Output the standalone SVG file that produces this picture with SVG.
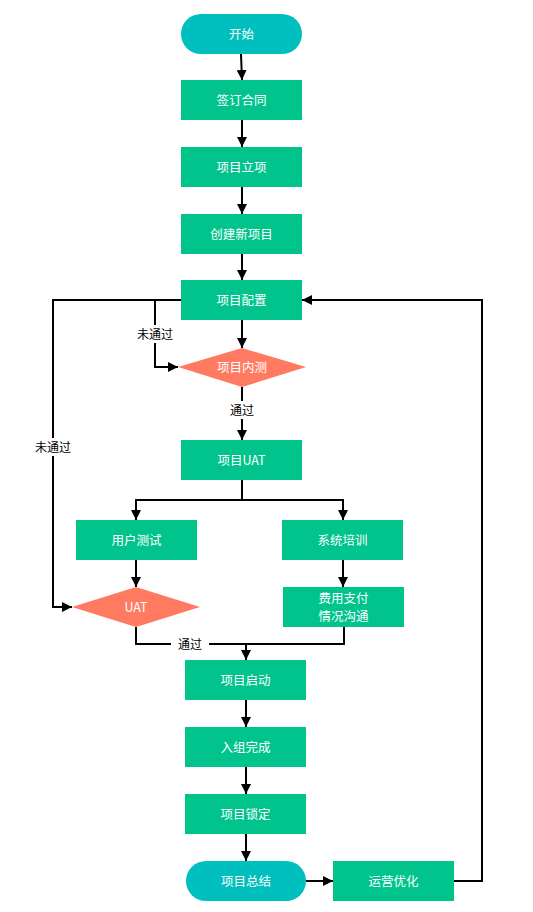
<svg xmlns="http://www.w3.org/2000/svg" width="533" height="912" viewBox="0 0 533 912">
<defs>
<marker id="ah" viewBox="0 0 10 10" refX="10" refY="5" markerWidth="10" markerHeight="10" markerUnits="userSpaceOnUse" orient="auto">
<path d="M0,0 L10,5 L0,10 z" fill="#000"/>
</marker>
<style>
.box{fill:#00C48C}
.pill{fill:#00BFBF}
.dia{fill:#FF7A61}
.t{font-family:"Noto Sans CJK SC","Noto Sans",sans-serif;font-size:12.5px;fill:#fff;text-anchor:middle;dominant-baseline:central}
.lbl{font-family:"Noto Sans CJK SC","Noto Sans",sans-serif;font-size:12px;fill:#000;text-anchor:middle;dominant-baseline:central}
.c{fill:none;stroke:#000;stroke-width:2}
.ca{fill:none;stroke:#000;stroke-width:2;marker-end:url(#ah)}
</style>
</defs>
<rect width="533" height="912" fill="#fff"/>
<g id="connectors">
<path class="ca" d="M241,54 L242,80"/>
<path class="ca" d="M242,120 L242,147"/>
<path class="ca" d="M242,187 L242,214"/>
<path class="ca" d="M242,254 L242,280"/>
<path class="ca" d="M242,320 L242,348"/>
<path class="ca" d="M181,300 L53,300 L53,607 L72,607"/>
<path class="ca" d="M155,300 L155,367 L178,367"/>
<path class="ca" d="M242,387 L242,440"/>
<path class="c" d="M242,480 L242,500"/>
<path class="ca" d="M242,500 L136,500 L136,520"/>
<path class="ca" d="M242,500 L343,500 L343,520"/>
<path class="ca" d="M136,560 L136,587"/>
<path class="ca" d="M343,560 L343,587"/>
<path class="c" d="M136,627 L136,644 L344,644 L344,627"/>
<path class="ca" d="M246,644 L246,660"/>
<path class="ca" d="M246,700 L246,727"/>
<path class="ca" d="M246,767 L246,794"/>
<path class="ca" d="M246,834 L246,861"/>
<path class="ca" d="M306,881 L333,881"/>
<path class="ca" d="M454,881 L482,881 L482,300 L302,300"/>
<rect x="132" y="325" width="46" height="18" fill="#fff"/>
<text class="lbl" x="155" y="333">未通过</text>
<rect x="30" y="438" width="46" height="18" fill="#fff"/>
<text class="lbl" x="53" y="446">未通过</text>
<rect x="224" y="401" width="36" height="18" fill="#fff"/>
<text class="lbl" x="242" y="409">通过</text>
<rect x="171" y="635" width="38" height="18" fill="#fff"/>
<text class="lbl" x="190" y="643">通过</text>
</g>
<g id="start"><rect class="pill" x="181" y="14" width="121" height="40" rx="20"/><text class="t" x="241.5" y="33">开始</text></g>
<g id="contract"><rect class="box" x="181" y="80" width="121" height="40"/><text class="t" x="241.5" y="99">签订合同</text></g>
<g id="approve"><rect class="box" x="181" y="147" width="121" height="40"/><text class="t" x="241.5" y="166">项目立项</text></g>
<g id="create"><rect class="box" x="181" y="214" width="121" height="40"/><text class="t" x="241.5" y="233">创建新项目</text></g>
<g id="config"><rect class="box" x="181" y="280" width="121" height="40"/><text class="t" x="241.5" y="299">项目配置</text></g>
<g id="internal"><polygon class="dia" points="178,367 242,348 306,367 242,387"/><text class="t" x="242" y="366">项目内测</text></g>
<g id="uat"><rect class="box" x="181" y="440" width="121" height="40"/><text class="t" x="241.5" y="459">项目UAT</text></g>
<g id="usertest"><rect class="box" x="76" y="520" width="121" height="40"/><text class="t" x="136.5" y="539">用户测试</text></g>
<g id="training"><rect class="box" x="282" y="520" width="121" height="40"/><text class="t" x="342.5" y="539">系统培训</text></g>
<g id="payment"><rect class="box" x="283" y="587" width="121" height="40"/><text class="t" x="343.5" y="597">费用支付</text><text class="t" x="343.5" y="615">情况沟通</text></g>
<g id="uatdec"><polygon class="dia" points="72,607 136,587 200,607 136,627"/><text class="t" x="136" y="606">UAT</text></g>
<g id="launch"><rect class="box" x="185" y="660" width="121" height="40"/><text class="t" x="245.5" y="679">项目启动</text></g>
<g id="enroll"><rect class="box" x="185" y="727" width="121" height="40"/><text class="t" x="245.5" y="746">入组完成</text></g>
<g id="lock"><rect class="box" x="185" y="794" width="121" height="40"/><text class="t" x="245.5" y="813">项目锁定</text></g>
<g id="summary"><rect class="pill" x="186" y="861" width="120" height="40" rx="20"/><text class="t" x="246" y="880">项目总结</text></g>
<g id="ops"><rect class="box" x="333" y="861" width="121" height="40"/><text class="t" x="393.5" y="880">运营优化</text></g>
</svg>
